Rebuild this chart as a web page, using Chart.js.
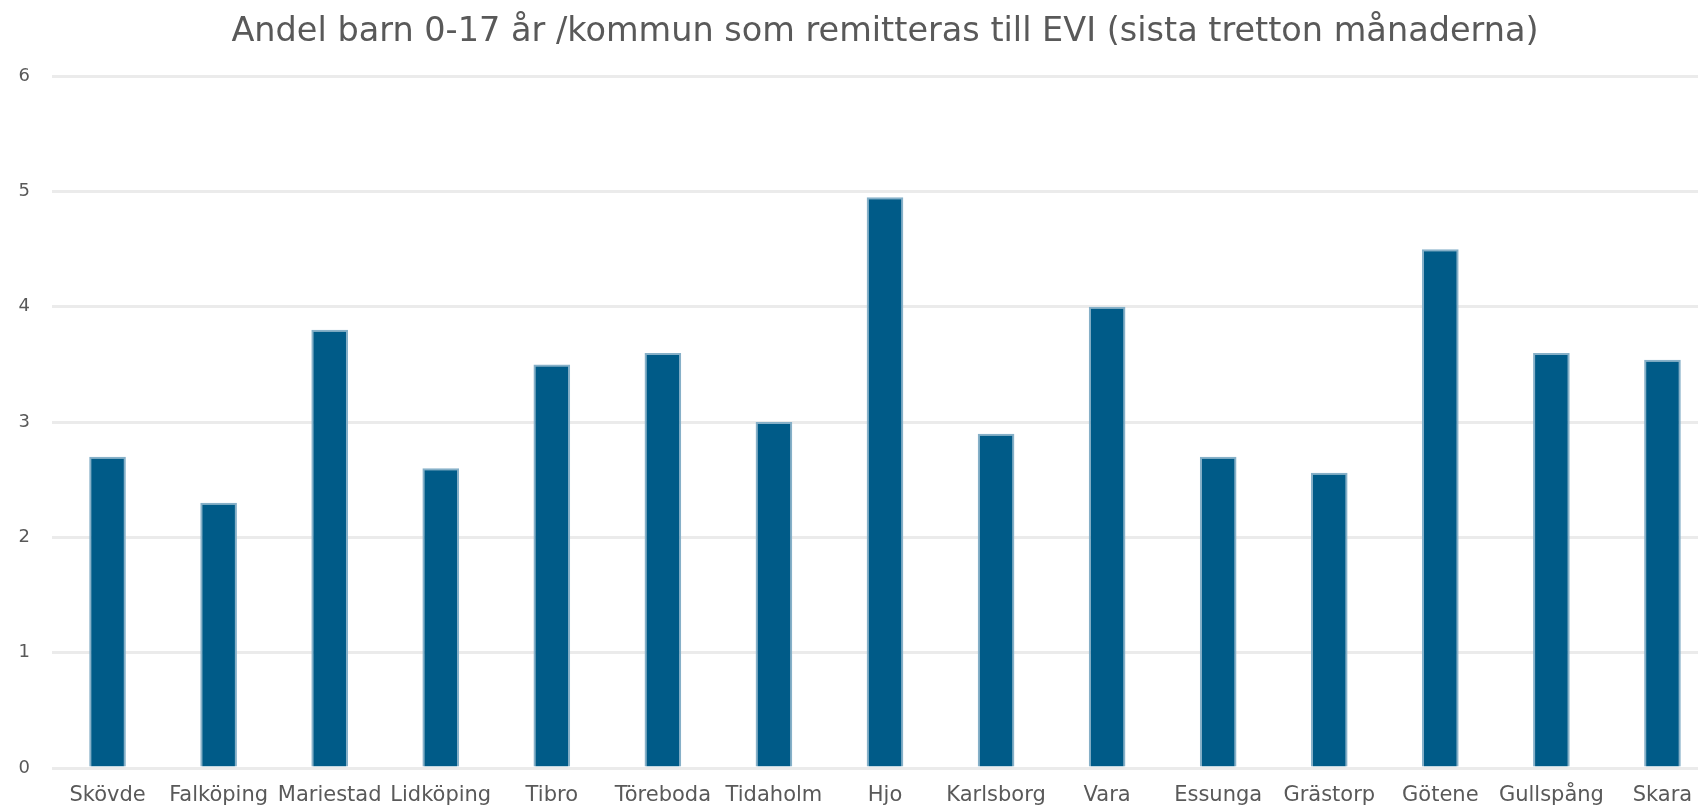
<!DOCTYPE html>
<html>
<head>
<meta charset="utf-8">
<script src="https://cdn.jsdelivr.net/npm/chart.js@4"></script>
<style>
  html, body { margin: 0; padding: 0; background: #fff; overflow: hidden; }
  #wrap { width: 1718px; height: 807px; }
</style>
</head>
<body>
<div id="wrap"><canvas id="remissChart"></canvas></div>
<script>
const kommuner = ["Skövde", "Falköping", "Mariestad", "Lidköping", "Tibro", "Töreboda", "Tidaholm", "Hjo",
    "Karlsborg", "Vara", "Essunga", "Grästorp", "Götene", "Gullspång", "Skara"];
const andel = [2.7, 2.3, 3.8, 2.6, 3.5, 3.6, 3.0, 4.95, 2.9, 4.0, 2.7, 2.56, 4.5, 3.6, 3.54];
const yTicks = [0, 1, 2, 3, 4, 5, 6];

const textColor = '#595959';
const font = 'DejaVu Sans, Verdana, sans-serif';

const ctx = document.getElementById('remissChart').getContext('2d');
const remissChart = new Chart(ctx, {
    type: 'bar',
    data: {
        labels: kommuner,
        datasets: [{
            label: 'Andel',
            data: andel,
            backgroundColor: '#005b88',
            borderColor: '#86b0c8',
            borderWidth: 2,
            categoryPercentage: 1,
            barPercentage: 0.33
        }]
    },
    options: {
        responsive: true,
        maintainAspectRatio: false,
        animation: false,
        layout: { padding: 0 },
        plugins: {
            legend: { display: false },
            tooltip: { enabled: false },
            title: {
                display: true,
                fullSize: false,
                text: 'Andel barn 0-17 år /kommun som remitteras till EVI (sista tretton månaderna)',
                color: textColor,
                font: { family: font, size: 33.5, weight: 'normal' },
                padding: { top: 12, bottom: 24 }
            }
        },
        scales: {
            x: {
                afterFit: scale => { scale.height = 39; },
                grid: { display: false, drawTicks: false },
                border: { display: false },
                ticks: {
                    color: textColor,
                    font: { family: font, size: 21 },
                    padding: 15,
                    maxRotation: 0,
                    autoSkip: false
                }
            },
            y: {
                min: 0,
                max: 6,
                afterFit: scale => { scale.width = 52; },
                afterBuildTicks: scale => { scale.ticks = yTicks.map(v => ({ value: v })); },
                grid: { color: '#ebebeb', lineWidth: 3, drawTicks: false },
                border: { display: false },
                ticks: {
                    color: textColor,
                    font: { family: font, size: 18 },
                    padding: 22
                }
            }
        }
    }
});
</script>
</body>
</html>
